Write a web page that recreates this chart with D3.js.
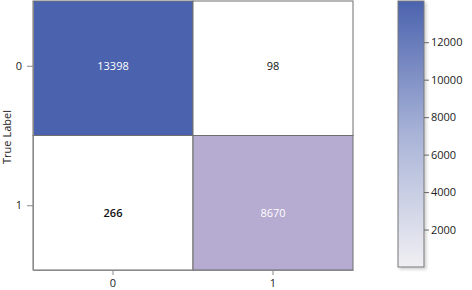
<!DOCTYPE html>
<html>
<head>
<meta charset="utf-8">
<script src="https://cdn.jsdelivr.net/npm/d3@7"></script>
<style>
  body { margin: 0; background: #fff; }
  text { font-family: "Open Sans", sans-serif; }
</style>
</head>
<body>
<div id="chart"></div>
<script>
const trueLabels = ['0', '1'];
const predLabels = ['0', '1'];
const counts = [
  [13398, 98],
  [266, 8670]
];
const barTicks = [2000, 4000, 6000, 8000, 10000, 12000];

const svg = d3.select('#chart')
  .append('svg')
    .attr('width', 472)
    .attr('height', 290);

const x = d3.scaleBand().domain(predLabels).range([33, 353]);
const y = d3.scaleBand().domain(trueLabels).range([1, 270]);

const color = d3.scaleLinear()
    .domain([98, 266, 8670, 13398])
    .range(['#ffffff', '#ffffff', '#b6abd0', '#4b63ae']);

const cells = [];
counts.forEach((row, i) => row.forEach((v, j) => {
  cells.push({ t: trueLabels[i], p: predLabels[j], v });
}));

const g = svg.append('g');

g.selectAll('rect.cell')
    .data(cells)
  .join('rect')
    .attr('class', 'cell')
    .attr('x', d => x(d.p))
    .attr('y', d => y(d.t))
    .attr('width', x.bandwidth())
    .attr('height', y.bandwidth())
    .attr('fill', d => color(d.v))
    .attr('stroke', '#6f6f6f')
    .attr('stroke-width', 1);

g.selectAll('text.val')
    .data(cells)
  .join('text')
    .attr('class', 'val')
    .attr('x', d => x(d.p) + x.bandwidth() / 2)
    .attr('y', d => y(d.t) + y.bandwidth() / 2 + (d.t === '1' ? 10 : -2))
    .attr('dy', '0.35em')
    .attr('text-anchor', 'middle')
    .attr('font-size', '11px')
    .attr('font-weight', d => d.v === 266 ? 600 : 'normal')
    .attr('fill', d => d.v > 5000 ? '#ffffff' : '#111111')
    .text(d => d.v);

// axes
const xAxis = svg.append('g')
    .attr('transform', 'translate(0,270)')
    .call(d3.axisBottom(x).tickSize(5).tickSizeOuter(0).tickPadding(4));
const yAxis = svg.append('g')
    .attr('transform', 'translate(33,0)')
    .call(d3.axisLeft(y).tickSize(6).tickSizeOuter(0).tickPadding(5));

[xAxis, yAxis].forEach(a => {
  a.select('.domain').attr('stroke', '#888');
  a.selectAll('.tick line').attr('stroke', '#888');
  a.selectAll('.tick text')
      .attr('font-size', '11px')
      .attr('font-family', '"Open Sans", sans-serif')
      .attr('fill', '#222');
});
yAxis.selectAll('.tick').attr('transform', d => `translate(0,${y(d) + y.bandwidth() / 2 + (d === '1' ? 3 : -2)})`);

svg.append('text')
    .attr('transform', 'translate(11,137) rotate(-90)')
    .attr('text-anchor', 'middle')
    .attr('font-size', '11px')
    .attr('fill', '#222')
    .text('True Label');

// colour bar
const barY = d3.scaleLinear().domain([0, 14200]).range([267, 1]);
const defs = svg.append('defs');
const grad = defs.append('linearGradient')
    .attr('id', 'cbar')
    .attr('x1', 0).attr('y1', 1).attr('x2', 0).attr('y2', 0);
grad.append('stop').attr('offset', '0%').attr('stop-color', '#f0eff3');
grad.append('stop').attr('offset', '50%').attr('stop-color', '#a8b3d7');
grad.append('stop').attr('offset', '100%').attr('stop-color', '#4b63ae');

const filt = defs.append('filter').attr('id', 'shadow')
    .attr('x', '-20%').attr('y', '-5%').attr('width', '160%').attr('height', '115%');
filt.append('feDropShadow')
    .attr('dx', 2).attr('dy', 2).attr('stdDeviation', 1.5)
    .attr('flood-color', '#000').attr('flood-opacity', 0.18);

svg.append('rect')
    .attr('x', 398)
    .attr('y', barY(14200))
    .attr('width', 26)
    .attr('height', barY(0) - barY(14200))
    .attr('fill', 'url(#cbar)')
    .attr('stroke', '#777')
    .attr('filter', 'url(#shadow)');

const cAxis = svg.append('g')
    .attr('transform', 'translate(424,0)')
    .call(d3.axisRight(barY).tickValues(barTicks).tickFormat(d3.format('d')).tickSize(5).tickPadding(2));
cAxis.select('.domain').remove();
cAxis.selectAll('.tick line').attr('stroke', '#666');
cAxis.selectAll('.tick text')
    .attr('font-size', '11px')
    .attr('font-family', '"Open Sans", sans-serif')
    .attr('fill', '#222');
</script>
</body>
</html>
